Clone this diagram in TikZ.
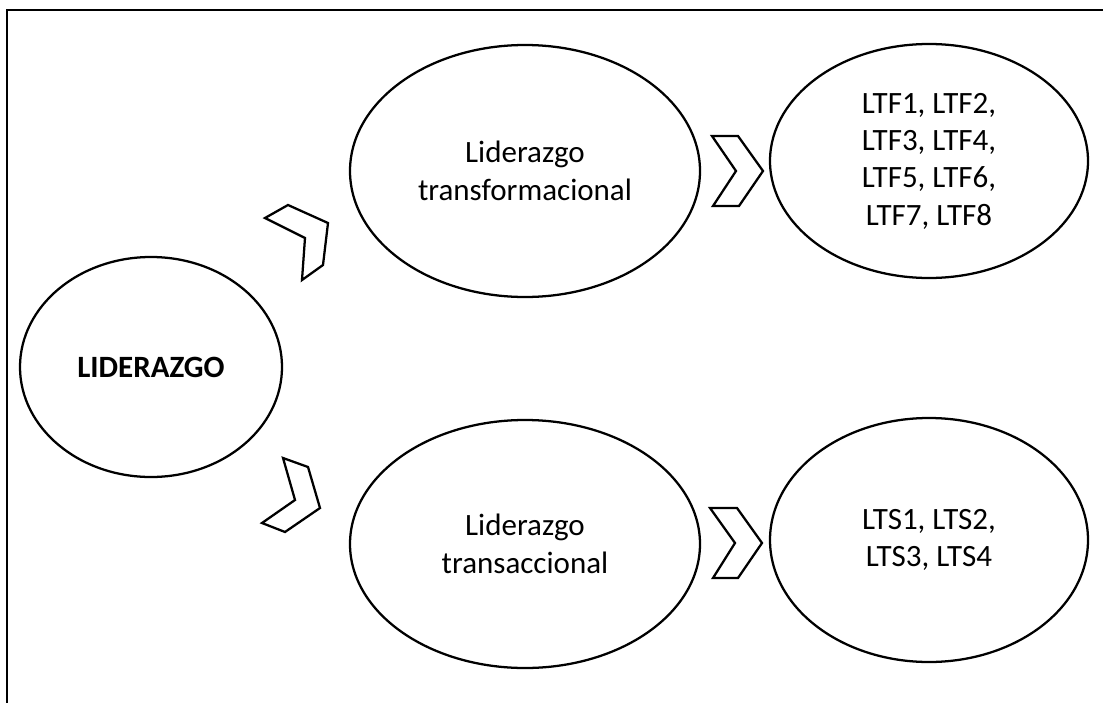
\documentclass[tikz,border=0pt]{standalone}
\usepackage{fontspec}
\setmainfont{Carlito}
\usetikzlibrary{shapes.geometric}
\begin{document}
\begin{tikzpicture}[x=0.75pt,y=-0.75pt,
  oval/.style={ellipse,draw=black,line width=1.7pt,inner sep=0pt,align=center,
    font=\fontsize{23.25}{28}\selectfont},
  chev/.style={draw=black,line width=1.7pt,line join=miter,fill=white},
  frame/.style={draw=black,line width=1.5pt}]
\useasboundingbox (0,0) rectangle (1103,703);
% frame
\coordinate (ftr) at (1103,10);
\coordinate (ftl) at (7,10);
\coordinate (fbl) at (7,703);
\draw[frame] (ftr) -- (ftl) -- (fbl);
% nodes
\node[oval,minimum width=196.5pt,minimum height=165pt] (lid) at (151,367) {\textbf{LIDERAZGO}};
\node[oval,minimum width=262.5pt,minimum height=189pt] (tf) at (525,171) {Liderazgo\\transformacional};
\node[oval,minimum width=238.5pt,minimum height=175.5pt] (ltf) at (929,161) {LTF1, LTF2,\\LTF3, LTF4,\\LTF5, LTF6,\\LTF7, LTF8};
\node[oval,minimum width=262.5pt,minimum height=186pt] (ts) at (525,544) {Liderazgo\\transaccional};
\node[oval,minimum width=238.5pt,minimum height=183pt] (lts) at (929,540) {LTS1, LTS2,\\LTS3, LTS4};
% chevrons
\draw[chev] (265,218) -- (288,205) -- (328,223) -- (323,265) -- (302,280) -- (305,238) -- cycle;
\draw[chev] (283,458) -- (308,467) -- (320,508) -- (285,532) -- (262,523) -- (295,500) -- cycle;
\draw[chev] (712,136) -- (738,136) -- (763,171) -- (739,206) -- (713,206) -- (736,171) -- cycle;
\draw[chev] (710,508) -- (737,508) -- (762,543) -- (738,578) -- (713,578) -- (735,543) -- cycle;
\end{tikzpicture}
\end{document}
